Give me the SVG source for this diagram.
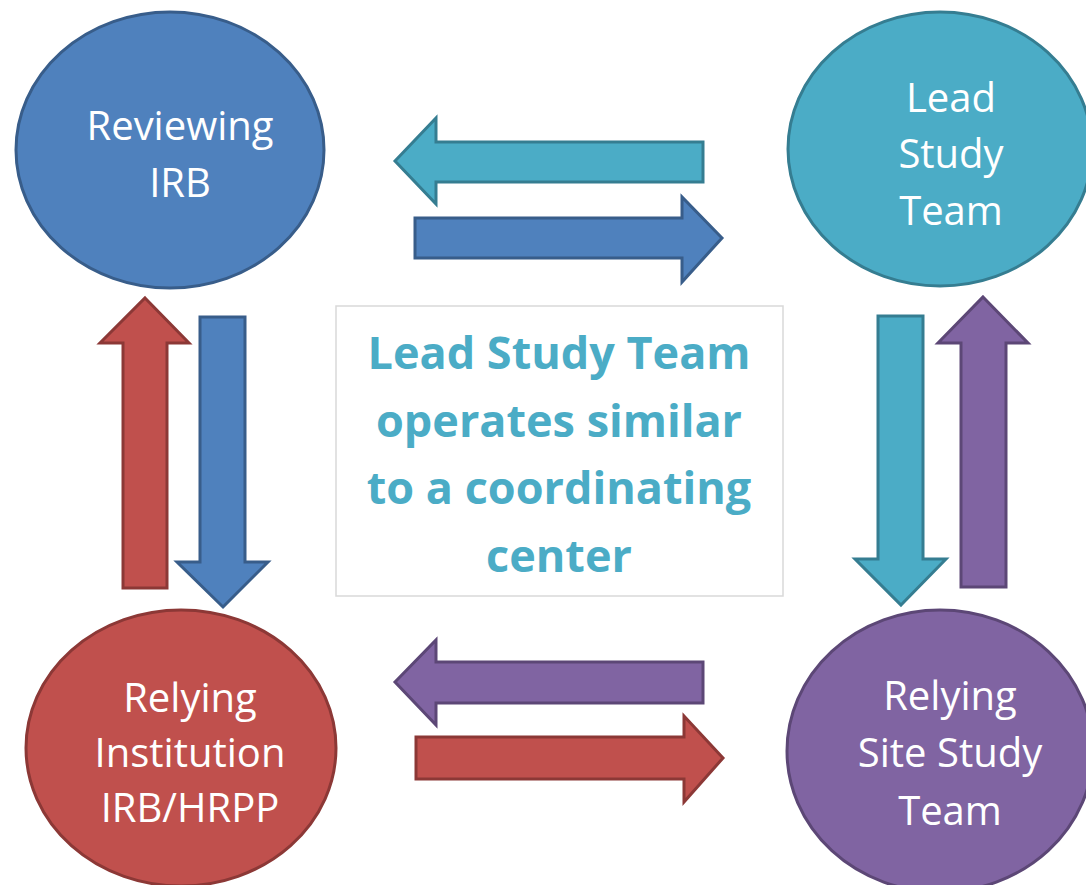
<svg xmlns="http://www.w3.org/2000/svg" width="1086" height="885" viewBox="0 0 1086 885">
<style>
.nt{font-family:"Open Sans","Liberation Sans",sans-serif;font-size:40px;fill:#ffffff;text-anchor:middle}
.ct{font-family:"Open Sans","Liberation Sans",sans-serif;font-size:45px;font-weight:bold;fill:#4bacc6;text-anchor:middle}
.blue{fill:#4f81bd;stroke:#385d8a;stroke-width:3}
.teal{fill:#4bacc6;stroke:#357d91;stroke-width:3}
.red{fill:#c0504d;stroke:#8c3836;stroke-width:3}
.purple{fill:#8064a2;stroke:#5c4776;stroke-width:3}
</style>
<rect width="1086" height="885" fill="#ffffff"/>
<g id="reviewing-irb">
<ellipse class="blue" cx="170" cy="150" rx="154" ry="138"/>
<text class="nt" x="180" y="140">Reviewing</text>
<text class="nt" x="180" y="197">IRB</text>
</g>
<g id="lead-study-team">
<ellipse class="teal" cx="940" cy="149" rx="152" ry="137"/>
<text class="nt" x="951" y="112">Lead</text>
<text class="nt" x="951" y="168">Study</text>
<text class="nt" x="951" y="225">Team</text>
</g>
<g id="relying-institution">
<ellipse class="red" cx="181" cy="748" rx="155" ry="138"/>
<text class="nt" x="190" y="712">Relying</text>
<text class="nt" x="190" y="767">Institution</text>
<text class="nt" x="190" y="822">IRB/HRPP</text>
</g>
<g id="relying-site-study-team">
<ellipse class="purple" cx="940" cy="751" rx="153" ry="141"/>
<text class="nt" x="950" y="710">Relying</text>
<text class="nt" x="950" y="767">Site Study</text>
<text class="nt" x="950" y="825">Team</text>
</g>
<g id="center-note">
<rect x="336" y="306" width="447" height="290" fill="#ffffff" stroke="#d9d9d9" stroke-width="1.5"/>
<text class="ct" x="559" y="369">Lead Study Team</text>
<text class="ct" x="559" y="437">operates similar</text>
<text class="ct" x="559" y="504">to a coordinating</text>
<text class="ct" x="559" y="572">center</text>
</g>
<g id="connectors">
<polygon class="teal" points="395,161 436,118 436,142 703,142 703,182 436,182 436,204"/>
<polygon class="blue" points="722,238 682,197 682,218 415,218 415,258 682,258 682,282"/>
<polygon class="red" points="145,298 189,343 167,343 167,588 123,588 123,343 100,343"/>
<polygon class="blue" points="223,607 268,562 245,562 245,317 200,317 200,562 177,562"/>
<polygon class="teal" points="901,605 946,559 923,559 923,316 878,316 878,559 855,559"/>
<polygon class="purple" points="983,297 1028,343 1006,343 1006,587 961,587 961,343 938,343"/>
<polygon class="purple" points="395,682 436,640 436,662 703,662 703,703 436,703 436,725"/>
<polygon class="red" points="723,758 684,716 684,737 416,737 416,779 684,779 684,802"/>
</g>
</svg>
